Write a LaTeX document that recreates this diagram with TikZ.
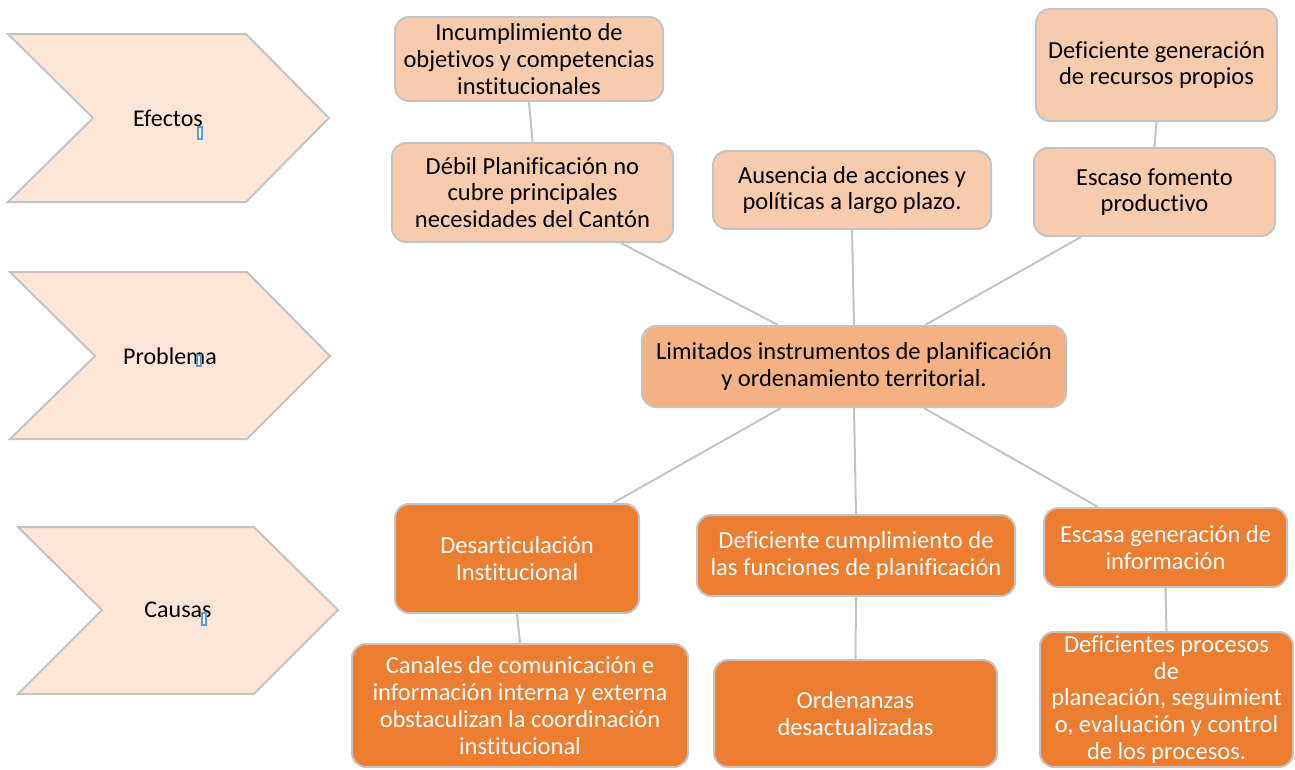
\documentclass[tikz,border=0pt]{standalone}
\usepackage{fontspec}
\setmainfont{Carlito}[Ligatures={NoCommon}]
\definecolor{peach}{HTML}{F8CBAD}
\definecolor{midpeach}{HTML}{F4B183}
\definecolor{orange}{HTML}{ED7D31}
\definecolor{chevfill}{HTML}{FBE5D6}
\definecolor{bordergray}{HTML}{C4C4C4}
\definecolor{cursorblue}{HTML}{5B9BD5}
\tikzset{
  box/.style={draw=bordergray, line width=2pt, rounded corners=14pt, inner sep=0pt,
    align=center, font=\fontsize{24.5}{26.8}\selectfont},
  effect/.style={box, fill=peach, text=black},
  problem/.style={box, fill=midpeach, text=black},
  cause/.style={box, fill=orange, text=white},
  conn/.style={draw=bordergray, line width=2pt},
  chev/.style={draw=bordergray, line width=2pt, fill=chevfill, line join=miter},
  chevlabel/.style={font=\fontsize{24}{26.5}\selectfont, text=black, inner sep=0pt},
  cursor/.style={draw=cursorblue, line width=1.2pt, fill=white}
}
\begin{document}
\begin{tikzpicture}[x=1pt, y=-1pt]
\useasboundingbox (0,0) rectangle (1295,769);

% chevrons
\draw[chev] (8,34) -- (246,34) -- (329,118) -- (246,202) -- (8,202) -- (93,118) -- cycle;
\draw[chev] (10,272) -- (247,272) -- (330,356) -- (247,439) -- (10,439) -- (95,356) -- cycle;
\draw[chev] (18,527) -- (254,527) -- (338,610) -- (254,694) -- (18,694) -- (102,610) -- cycle;
\node[chevlabel] (lefectos) at (168,118) {Efectos};
\node[chevlabel] (lproblema) at (170,356) {Problema};
\node[chevlabel] (lcausas) at (178,610) {Causas};
\draw[cursor] (198,127) rectangle (202,139);
\draw[cursor] (197,355) rectangle (201,366);
\draw[cursor] (202,613) rectangle (206,625);

% effects
\node[effect, minimum width=268pt, minimum height=84pt] (inc) at (529,59)
  {Incumplimiento de\\objetivos y competencias\\institucionales};
\node[effect, minimum width=281pt, minimum height=99pt] (deb) at (532.5,192.5)
  {Débil Planificación no\\cubre principales\\necesidades del Cantón};
\node[effect, minimum width=278pt, minimum height=78pt] (aus) at (852,190)
  {Ausencia de acciones y\\políticas a largo plazo.};
\node[effect, minimum width=241pt, minimum height=112pt] (def) at (1156.5,65)
  {Deficiente generación\\de recursos propios};
\node[effect, minimum width=241pt, minimum height=88pt] (esc) at (1154.5,192)
  {Escaso fomento\\productivo};

% problem
\node[problem, minimum width=424pt, minimum height=81pt] (lim) at (854,366.5)
  {Limitados instrumentos de planificación\\y ordenamiento territorial.};

% causes
\node[cause, minimum width=244pt, minimum height=109pt] (des) at (517,558.5)
  {Desarticulación\\Institucional};
\node[cause, minimum width=318pt, minimum height=81pt] (dcp) at (856,555.5)
  {Deficiente cumplimiento de\\las funciones de planificación};
\node[cause, minimum width=243pt, minimum height=79pt] (egi) at (1165.5,547.5)
  {Escasa generación de\\información};
\node[cause, minimum width=336pt, minimum height=123pt] (can) at (520,705.5)
  {Canales de comunicación e\\información interna y externa\\obstaculizan la coordinación\\institucional};
\node[cause, minimum width=283pt, minimum height=107pt] (ord) at (855.5,713.5)
  {Ordenanzas\\desactualizadas};
\node[cause, minimum width=253pt, minimum height=135pt] (dpp) at (1166.5,699.5)
  {Deficientes procesos\\de\\planeación, seguimient\\o, evaluación y control\\de los procesos.};

% connectors
\draw[conn] (inc.south) -- (deb.north);
\draw[conn] (def.south) -- (esc.north);
\draw[conn] (lim.north) -- (aus.south);
\draw[conn] ([xshift=-76pt]lim.north) -- ([xshift=88.5pt]deb.south);
\draw[conn] ([xshift=71pt]lim.north) -- ([xshift=-73.5pt]esc.south);
\draw[conn] ([xshift=-73pt]lim.south) -- ([xshift=96pt]des.north);
\draw[conn] (lim.south) -- (dcp.north);
\draw[conn] ([xshift=70pt]lim.south) -- ([xshift=-67.5pt]egi.north);
\draw[conn] (des.south) -- (can.north);
\draw[conn] (dcp.south) -- (ord.north);
\draw[conn] (egi.south) -- (dpp.north);
\end{tikzpicture}
\end{document}
